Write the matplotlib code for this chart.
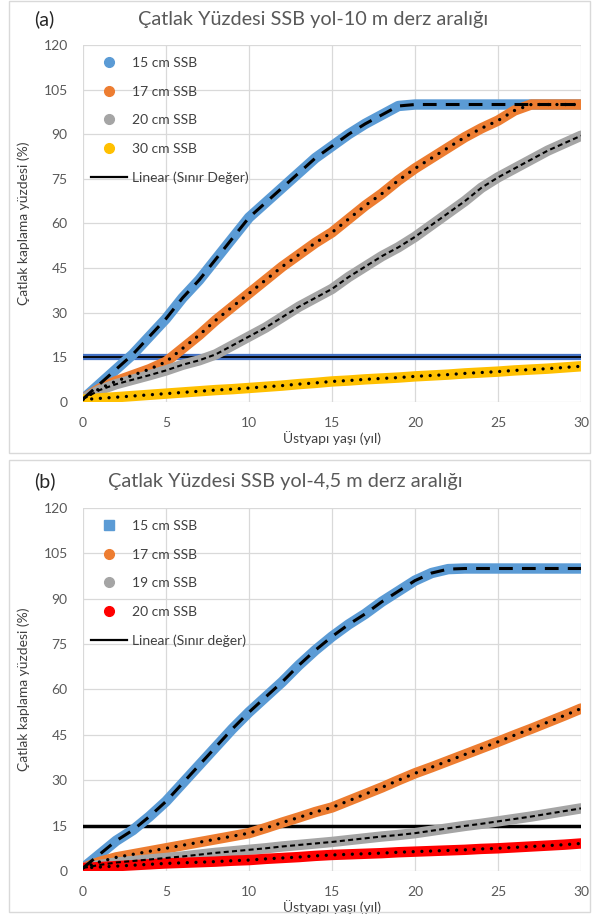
import matplotlib
matplotlib.use("Agg")
import matplotlib.pyplot as plt
from matplotlib.patches import Rectangle
from matplotlib.lines import Line2D

plt.rcParams["font.family"] = ["Lato", "DejaVu Sans"]

# ---- data ----
years = list(range(31))

# (a) SSB yol - 10 m derz araligi
a_15cm = [1, 6, 11, 16, 22, 28, 35, 41, 48, 55, 62, 67, 72, 77, 82, 86,
          90, 93.5, 96.5, 99.5, 100, 100, 100, 100, 100, 100, 100, 100, 100, 100, 100]
a_17cm = [1, 4.5, 7, 9, 11, 13.5, 18, 22.5, 27.5, 32, 36.5, 41, 45.5, 49.5, 53.5, 57,
          61.5, 66, 70, 74.5, 78.5, 82, 85.5, 89, 92, 94.6, 98, 100, 100, 100, 100]
a_20cm = [1, 4, 6, 7.5, 9, 10.6, 12.5, 14, 16, 19, 22, 25, 28.5, 32, 35, 38,
          42, 45.5, 49, 52, 55.5, 59.5, 63.5, 67.5, 72, 75.5, 78.5, 81.5, 84.5, 87, 89.5]
a_30cm = [0.8, 1.2, 1.6, 2.0, 2.4, 2.8, 3.2, 3.6, 4.0, 4.3, 4.7, 5.1, 5.5, 6.0, 6.4, 6.9,
          7.2, 7.6, 7.9, 8.2, 8.6, 8.9, 9.2, 9.6, 9.9, 10.2, 10.6, 10.9, 11.2, 11.6, 12]
a_limit = 15

# (b) SSB yol - 4,5 m derz araligi
b_15cm = [1, 5.5, 10, 13.5, 18, 23, 29, 35, 41, 47, 52.5, 57.5, 62.5, 68, 73, 77.5,
          81.5, 85, 89, 92.5, 96, 98.5, 99.8, 100, 100, 100, 100, 100, 100, 100, 100]
b_17cm = [1, 3, 4.5, 5.5, 6.5, 7.5, 8.5, 9.5, 10.5, 11.5, 12.5, 14.2, 16, 17.7, 19.5, 21,
          23.2, 25.4, 27.6, 30, 32.3, 34.3, 36.4, 38.5, 40.6, 42.7, 44.9, 47, 49.2, 51.4, 53.7]
b_19cm = [1, 2, 2.8, 3.3, 3.8, 4.3, 4.8, 5.4, 6, 6.5, 7, 7.5, 8.1, 8.6, 9.1, 9.6,
          10.2, 10.8, 11.4, 11.9, 12.5, 13.3, 14.1, 14.9, 15.6, 16.4, 17.2, 18, 18.9, 19.8, 20.7]
b_20cm = [1, 1.3, 1.6, 1.9, 2.2, 2.5, 2.7, 2.9, 3.1, 3.4, 3.6, 4, 4.3, 4.6, 5, 5.3,
          5.5, 5.7, 5.9, 6.2, 6.4, 6.6, 6.8, 7, 7.3, 7.5, 7.8, 8.1, 8.4, 8.7, 9.1]
b_limit = 15

labels_a = ["15 cm SSB", "17 cm SSB", "20 cm SSB", "30 cm SSB", "Linear (Sınır Değer)"]
labels_b = ["15 cm SSB", "17 cm SSB", "19 cm SSB", "20 cm SSB", "Linear (Sınır değer)"]
title_a = "Çatlak Yüzdesi SSB yol-10 m derz aralığı"
title_b = "Çatlak Yüzdesi SSB yol-4,5 m derz aralığı"
xlabel = "Üstyapı yaşı (yıl)"
ylabel = "Çatlak kaplama yüzdesi (%)"

BLUE, ORANGE, GRAY, YELLOW, RED = "#5B9BD5", "#ED7D31", "#A5A5A5", "#FFC000", "#FF0000"
LONG = dict(dashes=(4.5, 3.0), lw=2.2)
DOT = dict(dashes=(0.01, 2.6), lw=2.4, dash_capstyle="round")
SHORT = dict(dashes=(2.4, 1.6), lw=1.5)

fig = plt.figure(figsize=(5.92, 9.15), dpi=100)

# panel frames
for y0, h in [(0.5049, 0.494), (0.0033, 0.494)]:
    fig.add_artist(Rectangle((0.0152, y0), 0.981, h, transform=fig.transFigure,
                             fill=False, ec="#D9D9D9", lw=1.0))


def panel(rect, series, labels, limit, limit_blue, title, tag, title_x, title_y, leg_y):
    ax = fig.add_axes(rect)
    for vals, col, over in series:
        ax.plot(years, vals, color=col, lw=7.5, solid_capstyle="round",
                solid_joinstyle="round", zorder=3)
        ax.plot(years, vals, color="black", zorder=4, **over)
    if limit_blue:
        ax.axhline(limit, color="#4472C4", lw=4.5, zorder=2)
        ax.axhline(limit, color="black", lw=1.3, zorder=2.5)
    else:
        ax.axhline(limit, color="black", lw=2.5, zorder=2)
    ax.set_xlim(0, 30)
    ax.set_ylim(0, 120)
    ax.set_xticks(range(0, 31, 5))
    ax.set_yticks(range(0, 121, 15))
    ax.grid(color="#D9D9D9", lw=0.9)
    ax.set_axisbelow(True)
    for s in ax.spines.values():
        s.set_visible(False)
    ax.tick_params(length=0, labelsize=10, labelcolor="#595959", pad=11)
    ax.set_xlabel(xlabel, fontsize=10, color="#404040", labelpad=1.5)
    ax.set_ylabel(ylabel, fontsize=10, color="#404040", labelpad=10)

    handles = []
    for i, (vals, col, over) in enumerate(series):
        mk = "s" if (not limit_blue and i == 0) else "o"
        handles.append(Line2D([], [], ls="none", marker=mk, ms=7, color=col))
    handles.append(Line2D([], [], color="black", lw=1.6))
    ax.legend(handles, labels, loc="upper left", bbox_to_anchor=(0.0, leg_y),
              frameon=False, fontsize=10, labelspacing=1.2, handlelength=2.6,
              handletextpad=0.3, borderaxespad=0.2, labelcolor="#404040")

    fig.text(title_x, title_y, title, fontsize=14.3, color="#595959", va="center")
    fig.text(0.057, title_y, tag, fontsize=14, color="#262626", va="center")
    return ax


panel([0.1402, 0.5607, 0.8412, 0.3901],
      [(a_15cm, BLUE, LONG), (a_17cm, ORANGE, DOT), (a_20cm, GRAY, SHORT), (a_30cm, YELLOW, DOT)],
      labels_a, a_limit, True, title_a, "(a)", 0.233, 0.979, 0.99)
panel([0.1402, 0.0481, 0.8412, 0.3967],
      [(b_15cm, BLUE, LONG), (b_17cm, ORANGE, DOT), (b_19cm, GRAY, SHORT), (b_20cm, RED, DOT)],
      labels_b, b_limit, False, title_b, "(b)", 0.182, 0.4743, 0.99)

fig.savefig("out.png", dpi=100)
